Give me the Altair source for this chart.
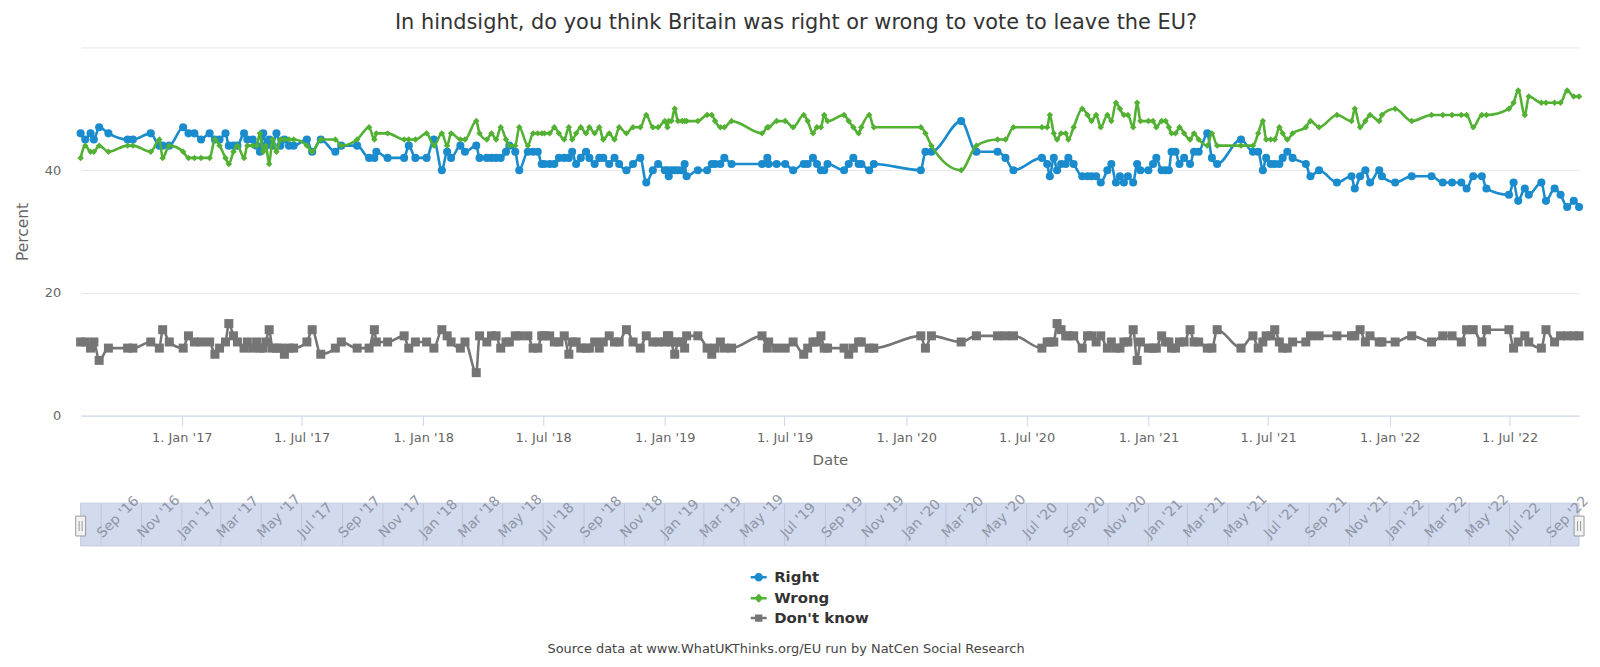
import altair as alt
import pandas as pd

# ---------------- data ----------------
poll_dates = [
    "2016-08-01", "2016-08-08", "2016-08-16", "2016-08-21", "2016-08-29", "2016-09-12", "2016-10-11", "2016-10-19",
    "2016-11-15", "2016-11-28", "2016-12-03", "2016-12-13", "2017-01-03", "2017-01-11", "2017-01-20", "2017-01-30",
    "2017-02-12", "2017-02-20", "2017-02-27", "2017-03-08", "2017-03-13", "2017-03-20", "2017-03-26", "2017-04-05",
    "2017-04-10", "2017-04-18", "2017-04-24", "2017-04-29", "2017-05-04", "2017-05-08", "2017-05-13", "2017-05-18",
    "2017-05-24", "2017-05-30", "2017-06-05", "2017-06-12", "2017-06-19", "2017-07-09", "2017-07-17", "2017-07-30",
    "2017-08-21", "2017-08-30", "2017-09-23", "2017-10-11", "2017-10-19", "2017-10-22", "2017-11-08", "2017-12-03",
    "2017-12-10", "2017-12-20", "2018-01-06", "2018-01-17", "2018-01-29", "2018-02-06", "2018-02-12", "2018-02-26",
    "2018-03-05", "2018-03-22", "2018-03-27", "2018-04-07", "2018-04-14", "2018-04-21", "2018-04-28", "2018-05-06",
    "2018-05-11", "2018-05-20", "2018-05-26", "2018-06-08", "2018-06-16", "2018-06-23", "2018-06-29", "2018-07-03",
    "2018-07-11", "2018-07-18", "2018-07-25", "2018-08-02", "2018-08-09", "2018-08-14", "2018-08-20", "2018-08-27",
    "2018-09-04", "2018-09-09", "2018-09-17", "2018-09-24", "2018-09-30", "2018-10-09", "2018-10-17", "2018-10-24",
    "2018-11-04", "2018-11-14", "2018-11-25", "2018-12-04", "2018-12-14", "2018-12-22", "2019-01-01", "2019-01-05",
    "2019-01-07", "2019-01-11", "2019-01-16", "2019-01-21", "2019-01-27", "2019-01-31", "2019-02-03", "2019-02-20",
    "2019-03-06", "2019-03-13", "2019-03-18", "2019-03-26", "2019-04-01", "2019-04-12", "2019-05-28", "2019-06-05",
    "2019-06-07", "2019-06-19", "2019-07-02", "2019-07-14", "2019-07-30", "2019-08-05", "2019-08-13", "2019-08-19",
    "2019-08-25", "2019-08-30", "2019-09-04", "2019-09-29", "2019-10-06", "2019-10-13", "2019-10-21", "2019-10-25",
    "2019-11-06", "2019-11-13", "2020-01-23", "2020-01-30", "2020-02-08", "2020-03-24", "2020-04-16", "2020-05-18",
    "2020-05-30", "2020-06-11", "2020-07-24", "2020-08-01", "2020-08-05", "2020-08-11", "2020-08-16", "2020-08-22",
    "2020-08-29", "2020-09-02", "2020-09-10", "2020-09-23", "2020-10-01", "2020-10-07", "2020-10-14", "2020-10-21",
    "2020-10-31", "2020-11-06", "2020-11-13", "2020-11-19", "2020-11-25", "2020-12-01", "2020-12-09", "2020-12-15",
    "2020-12-20", "2021-01-01", "2021-01-08", "2021-01-13", "2021-01-21", "2021-01-27", "2021-02-01", "2021-02-05",
    "2021-02-11", "2021-02-17", "2021-02-24", "2021-03-05", "2021-03-11", "2021-03-18", "2021-03-31", "2021-04-07",
    "2021-04-15", "2021-05-21", "2021-06-08", "2021-06-16", "2021-06-23", "2021-06-28", "2021-07-05", "2021-07-11",
    "2021-07-18", "2021-07-23", "2021-07-30", "2021-08-07", "2021-08-27", "2021-09-03", "2021-09-16", "2021-10-13",
    "2021-11-04", "2021-11-09", "2021-11-17", "2021-11-25", "2021-12-02", "2021-12-16", "2021-12-20", "2022-01-09",
    "2022-02-03", "2022-03-05", "2022-03-22", "2022-04-05", "2022-04-19", "2022-04-27", "2022-05-07", "2022-05-20",
    "2022-05-27", "2022-06-30", "2022-07-07", "2022-07-14", "2022-07-24", "2022-07-30", "2022-08-18", "2022-08-25",
    "2022-09-07", "2022-09-16", "2022-09-26", "2022-10-06", "2022-10-14",
]

right = [
    46, 45, 46, 45, 47, 46, 45, 45, 46, 44, 44, 44, 47, 46, 46, 45,
    46, 45, 45, 46, 44, 44, 44, 46, 45, 45, 44, 43, 46, 44, 45, 44,
    46, 44, 45, 44, 44, 45, 43, 45, 43, 44, 44, 42, 42, 43, 42, 42,
    44, 42, 42, 45, 40, 43, 42, 44, 43, 44, 42, 42, 42, 42, 42, 43,
    44, 43, 40, 43, 43, 43, 41, 41, 41, 41, 42, 42, 42, 43, 41, 42,
    43, 42, 41, 42, 42, 41, 42, 41, 40, 41, 42, 38, 40, 41, 40, 40,
    39, 40, 40, 40, 40, 41, 39, 40, 40, 41, 41, 41, 42, 41, 41, 42,
    41, 41, 41, 40, 41, 41, 42, 41, 40, 40, 41, 40, 41, 42, 41, 41,
    40, 41, 40, 43, 43, 48, 43, 43, 42, 40, 42, 41, 39, 42, 40, 41,
    41, 42, 41, 39, 39, 39, 39, 38, 40, 41, 38, 39, 38, 39, 38, 41,
    40, 40, 41, 42, 40, 40, 40, 43, 43, 41, 42, 41, 43, 43, 46, 42,
    41, 45, 43, 43, 40, 42, 41, 41, 41, 42, 43, 42, 41, 39, 40, 38,
    39, 37, 39, 40, 38, 40, 39, 38, 39, 39, 38, 38, 38, 37, 39, 39,
    37, 36, 38, 35, 37, 36, 38, 35, 37, 36, 34, 35, 34,
]

wrong = [
    42, 44, 43, 43, 44, 43, 44, 44, 43, 45, 42, 44, 43, 42, 42, 42,
    42, 45, 44, 42, 41, 43, 44, 42, 44, 44, 44, 46, 43, 44, 41, 45,
    43, 45, 45, 45, 45, 44, 43, 45, 45, 44, 45, 47, 45, 46, 46, 45,
    45, 45, 46, 44, 46, 44, 46, 45, 45, 48, 46, 45, 46, 45, 47, 45,
    44, 44, 47, 44, 46, 46, 46, 46, 46, 47, 46, 45, 47, 45, 46, 47,
    46, 47, 46, 47, 45, 46, 45, 47, 46, 47, 47, 49, 47, 47, 48, 47,
    48, 48, 50, 48, 48, 48, 48, 48, 49, 49, 48, 47, 47, 48, 46, 47,
    47, 48, 48, 47, 49, 48, 46, 47, 47, 49, 48, 49, 48, 47, 46, 47,
    49, 47, 47, 46, 44, 40, 44, 45, 45, 47, 47, 47, 49, 46, 45, 46,
    46, 45, 47, 50, 49, 48, 49, 47, 49, 48, 51, 50, 49, 49, 47, 51,
    48, 48, 48, 47, 48, 48, 47, 46, 46, 47, 46, 45, 46, 45, 44, 46,
    44, 44, 44, 46, 48, 45, 45, 45, 47, 46, 45, 46, 47, 48, 47, 49,
    48, 50, 47, 48, 49, 48, 49, 50, 48, 49, 49, 49, 49, 49, 47, 49,
    49, 50, 51, 53, 49, 52, 51, 51, 51, 51, 53, 52, 52,
]

dont_know = [
    12, 12, 11, 12, 9, 11, 11, 11, 12, 11, 14, 12, 11, 13, 12, 12,
    12, 10, 11, 12, 15, 13, 12, 11, 12, 11, 12, 11, 11, 12, 14, 11,
    11, 11, 10, 11, 11, 12, 14, 10, 11, 12, 11, 11, 14, 12, 12, 13,
    11, 12, 12, 11, 14, 13, 12, 11, 12, 7, 13, 12, 13, 13, 11, 12,
    12, 13, 13, 13, 11, 11, 13, 13, 13, 12, 12, 13, 10, 12, 12, 11,
    11, 11, 12, 11, 12, 13, 12, 12, 14, 12, 11, 13, 12, 12, 12, 13,
    13, 12, 10, 12, 12, 11, 13, 13, 11, 10, 11, 12, 11, 11, 13, 11,
    12, 11, 11, 12, 10, 11, 12, 12, 13, 11, 11, 11, 10, 11, 12, 12,
    11, 11, 13, 11, 13, 12, 13, 13, 13, 13, 11, 12, 12, 12, 15, 14,
    13, 13, 13, 11, 13, 13, 12, 13, 11, 12, 11, 11, 12, 12, 14, 9,
    12, 11, 11, 11, 13, 12, 12, 11, 11, 12, 12, 14, 12, 12, 11, 11,
    14, 11, 13, 11, 12, 13, 13, 14, 12, 11, 11, 12, 12, 13, 13, 13,
    13, 13, 14, 12, 13, 12, 12, 12, 13, 12, 13, 13, 12, 14, 14, 12,
    14, 14, 11, 12, 13, 12, 11, 14, 12, 13, 13, 13, 13,
]

series_names = ["Right", "Wrong", "Don't know"]
series_colors = ["#1a8ccd", "#52b032", "#757575"]
marker_shapes = ["circle", "diamond", "square"]
marker_sizes = [66, 42, 82]

xtick_dates = ["2017-01-01", "2017-07-01", "2018-01-01", "2018-07-01", "2019-01-01", "2019-07-01",
               "2020-01-01", "2020-07-01", "2021-01-01", "2021-07-01", "2022-01-01", "2022-07-01"]

nav_dates = ["2016-09-01", "2016-11-01", "2017-01-01", "2017-03-01", "2017-05-01", "2017-07-01",
             "2017-09-01", "2017-11-01", "2018-01-01", "2018-03-01", "2018-05-01", "2018-07-01",
             "2018-09-01", "2018-11-01", "2019-01-01", "2019-03-01", "2019-05-01", "2019-07-01",
             "2019-09-01", "2019-11-01", "2020-01-01", "2020-03-01", "2020-05-01", "2020-07-01",
             "2020-09-01", "2020-11-01", "2021-01-01", "2021-03-01", "2021-05-01", "2021-07-01",
             "2021-09-01", "2021-11-01", "2022-01-01", "2022-03-01", "2022-05-01", "2022-07-01",
             "2022-09-01"]
nav_labels = ["Sep '16", "Nov '16", "Jan '17", "Mar '17", "May '17", "Jul '17",
              "Sep '17", "Nov '17", "Jan '18", "Mar '18", "May '18", "Jul '18",
              "Sep '18", "Nov '18", "Jan '19", "Mar '19", "May '19", "Jul '19",
              "Sep '19", "Nov '19", "Jan '20", "Mar '20", "May '20", "Jul '20",
              "Sep '20", "Nov '20", "Jan '21", "Mar '21", "May '21", "Jul '21",
              "Sep '21", "Nov '21", "Jan '22", "Mar '22", "May '22", "Jul '22",
              "Sep '22"]

title_text = "In hindsight, do you think Britain was right or wrong to vote to leave the EU?"
credit_text = "Source data at www.WhatUKThinks.org/EU run by NatCen Social Research"

# legend symbols: a short line with the series marker in the middle
legend_paths = [
    "M-2,0H2M-0.75,0A0.75,0.75,0,1,1,0.75,0A0.75,0.75,0,1,1,-0.75,0Z",
    "M-2,0H2M0,-0.7L0.7,0L0,0.7L-0.7,0Z",
    "M-2,0H2M-0.6,-0.6H0.6V0.6H-0.6Z",
]
handle_path = "M-0.5,-1H0.5V1H-0.5Z M-0.15,-0.5V0.5 M0.15,-0.5V0.5"

SANS = "DejaVu Sans"


def dt(s):
    y, m, d = (int(p) for p in s.split("-"))
    return alt.DateTime(year=y, month=m, date=d, utc=True)


rows = []
for name, vals in zip(series_names, [right, wrong, dont_know]):
    for d, v in zip(poll_dates, vals):
        rows.append({"date": d, "series": name, "value": v})
df = pd.DataFrame(rows)

x_enc = alt.X(
    "date:T",
    scale=alt.Scale(type="utc", domain=[dt(poll_dates[0]), dt(poll_dates[-1])], nice=False),
    axis=alt.Axis(
        values=[dt(s) for s in xtick_dates], format="%-d. %b '%y", labelFont=SANS, labelFontSize=13,
        labelColor="#666666", tickColor="#ccd6eb", tickSize=10, domainColor="#ccd6eb", grid=False,
        labelPadding=6, labelOverlap=False, labelFlush=False, title="Date", titleFont=SANS,
        titleFontSize=15, titleFontWeight="normal", titleColor="#666666", titlePadding=8,
    ),
)
y_enc = alt.Y(
    "value:Q",
    scale=alt.Scale(domain=[0, 60], nice=False, zero=True),
    axis=alt.Axis(
        values=[0, 20, 40, 60], labelExpr="datum.value == 60 ? '' : datum.label", grid=True,
        gridColor="#e6e6e6", domain=False, ticks=False, labelFont=SANS, labelFontSize=13,
        labelColor="#666666", labelPadding=20, title="Percent", titleFont=SANS, titleFontSize=15.5,
        titleFontWeight="normal", titleColor="#666666", titlePadding=14,
    ),
)

layers = []
for name, col, shp, sz in zip(series_names, series_colors, marker_shapes, marker_sizes):
    base = alt.Chart(df).transform_filter(alt.datum.series == name)
    layers.append(base.mark_line(interpolate="monotone", strokeWidth=2.6, color=col).encode(x=x_enc, y=y_enc))
    layers.append(base.mark_point(filled=True, shape=shp, size=sz, color=col, opacity=1).encode(x=x_enc, y=y_enc))

# legend (no visible marks, only the legend)
leg = alt.Legend(
    title=None, orient="none", legendX=674, legendY=525, direction="vertical", symbolSize=64,
    symbolStrokeWidth=2.5, labelFont=SANS, labelFontSize=15, labelFontWeight="bold",
    labelColor="#333333", labelOffset=8, rowPadding=4, padding=0,
)
legend_layer = alt.Chart(df).transform_filter("false").mark_point(filled=True, opacity=1, strokeWidth=2.5).encode(
    x=x_enc, y=y_enc,
    fill=alt.Fill("series:N", scale=alt.Scale(domain=series_names, range=series_colors), legend=leg),
    stroke=alt.Stroke("series:N", scale=alt.Scale(domain=series_names, range=series_colors), legend=leg),
    shape=alt.Shape("series:N", scale=alt.Scale(domain=series_names, range=legend_paths), legend=leg),
)

# navigator
nav_band_df = pd.DataFrame({"date": [poll_dates[0]], "date2": [poll_dates[-1]]})
nav_band = alt.Chart(nav_band_df).mark_rect(fill="#d2daed", stroke="#c4cbdc", strokeWidth=1).encode(
    x=x_enc, x2="date2:T", y=alt.value(458), y2=alt.value(501)
)
nav_df = pd.DataFrame({"date": nav_dates, "label": nav_labels})
nav_lines = alt.Chart(nav_df).mark_rule(color="#bec6da", strokeWidth=1).encode(
    x=x_enc, y=alt.value(459), y2=alt.value(500)
)
nav_text = alt.Chart(nav_df).mark_text(
    angle=315, align="left", baseline="alphabetic", font=SANS, fontSize=14, color="#8e95a5", dx=2
).encode(x=x_enc, y=alt.value(495), text="label:N")
handle_df = pd.DataFrame({"date": [poll_dates[0], poll_dates[-1]]})
handles = alt.Chart(handle_df).mark_point(
    shape=handle_path, filled=True, fill="#f2f2f2", stroke="#999999", strokeWidth=1, size=400, opacity=1
).encode(x=x_enc, y=alt.value(481))

credit = alt.Chart(pd.DataFrame({"t": [credit_text]})).mark_text(
    font=SANS, fontSize=13, color="#444444", align="center", baseline="middle"
).encode(text="t:N", x=alt.value(709), y=alt.value(605))

chart = alt.layer(nav_band, nav_lines, nav_text, handles, *layers, legend_layer, credit).properties(
    width=1506, height=370,
    title=alt.Title(title_text, font=SANS, fontSize=21, fontWeight="normal", color="#333333",
                    anchor="middle", dx=-34, offset=15),
    padding={"left": 73, "top": 38, "right": 13, "bottom": 250},
    autosize=alt.AutoSizeParams(type="none"),
).configure_view(strokeWidth=0)

chart.save("out.html", embed_options={"renderer": "svg", "actions": False})
